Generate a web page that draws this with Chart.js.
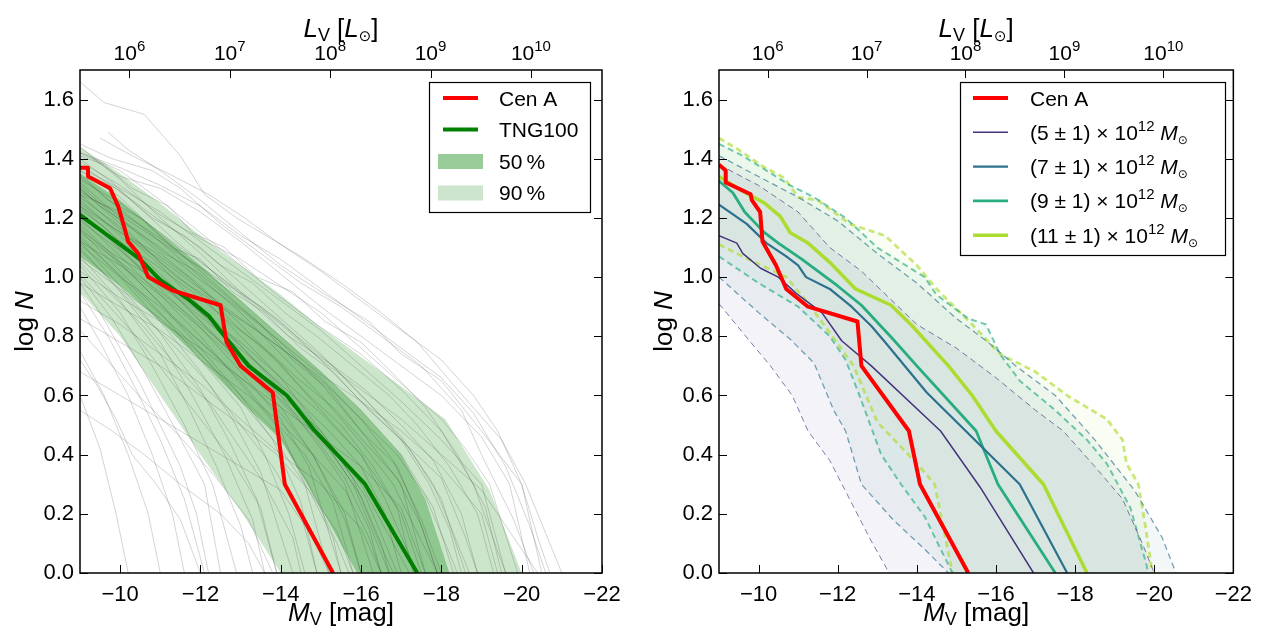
<!DOCTYPE html>
<html>
<head>
<meta charset="utf-8">
<script src="https://cdn.jsdelivr.net/npm/chart.js@4.4.1/dist/chart.umd.min.js"></script>
<style>
  html, body { margin: 0; padding: 0; background: #fff; }
  #wrap { position: relative; width: 1261px; height: 628px; overflow: hidden; }
  canvas { position: absolute; top: 0; }
  #leftChart { left: 0; }
  #rightChart { left: 639px; }
</style>
</head>
<body>
<div id="wrap">
  <canvas id="leftChart" width="630" height="628"></canvas>
  <canvas id="rightChart" width="622" height="628"></canvas>
</div>
<script>
'use strict';

// ---- axis ticks ----
var magTicks = [-10, -12, -14, -16, -18, -20, -22];
var logNTicks = [0.0, 0.2, 0.4, 0.6, 0.8, 1.0, 1.2, 1.4, 1.6];
var lumExponents = [6, 7, 8, 9, 10];   // top axis, L_V = 10^e
var MSUN_V = 4.77;                      // M_V of the sun, places the L_V ticks

// ---- left panel data, points are [M_V, log N] ----
var cenALeft = [[-9, 1.37], [-9.2, 1.37], [-9.2, 1.34], [-9.75, 1.30], [-9.95, 1.24], [-10.1, 1.17],
  [-10.2, 1.12], [-10.45, 1.08], [-10.7, 1.0], [-11.3, 0.955], [-12.5, 0.905], [-12.65, 0.78],
  [-13.0, 0.70], [-13.8, 0.61], [-14.1, 0.30], [-15.3, 0.0]];
var tngMedian = [[-9, 1.21], [-9.6, 1.15], [-10.3, 1.08], [-10.5, 1.06], [-11.0, 0.99], [-11.7, 0.925],
  [-12.2, 0.87], [-12.6, 0.80], [-13.2, 0.70], [-14.15, 0.60], [-14.85, 0.48], [-16.1, 0.30], [-17.4, 0.0]];
var band50Upper = [[-9, 1.35], [-10, 1.26], [-11, 1.15], [-12, 1.04], [-13, 0.92], [-14, 0.80],
  [-15, 0.68], [-16, 0.55], [-17, 0.40], [-17.6, 0.25], [-18.2, 0.0]];
var band50Lower = [[-9, 1.07], [-10, 0.97], [-11, 0.85], [-12, 0.72], [-13, 0.58], [-14, 0.45],
  [-15, 0.22], [-15.9, 0.0]];
var band90Upper = [[-9, 1.44], [-10, 1.35], [-11, 1.25], [-12, 1.14], [-13, 1.04], [-14, 0.94],
  [-15, 0.83], [-16, 0.73], [-17, 0.63], [-18.1, 0.52], [-19.2, 0.28], [-20.0, 0.0]];
var band90Lower = [[-9, 0.95], [-10, 0.80], [-11, 0.60], [-12, 0.40], [-13, 0.21], [-14, 0.0]];

// single TNG100 systems (thin grey lines)
var greyTracks = [
  [[-9, 1.66], [-9.6, 1.59], [-10.6, 1.55], [-11.5, 1.41], [-12.1, 1.28], [-12.9, 1.20], [-14.5, 1.07], [-15.5, 0.98], [-16.5, 0.88], [-17.4, 0.78], [-18.4, 0.62], [-19.5, 0.45], [-20.1, 0.30], [-21.0, 0]],
  [[-9.7, 1.49], [-10.2, 1.43], [-11.0, 1.36], [-12.0, 1.26], [-13.0, 1.15], [-14.0, 1.04], [-15.0, 0.95], [-16.2, 0.85], [-17.0, 0.74], [-18.0, 0.65], [-19.0, 0.48], [-20.0, 0.30], [-20.5, 0]],
  [[-9, 1.45], [-9.8, 1.40], [-10.8, 1.36], [-11.5, 1.30], [-12.5, 1.18], [-13.5, 1.08], [-14.5, 0.98], [-15.5, 0.90], [-16.5, 0.80], [-17.5, 0.70], [-18.5, 0.55], [-19.0, 0.40], [-19.8, 0.18], [-20.3, 0]],
  [[-9, 1.42], [-10, 1.36], [-11, 1.26], [-12, 1.15], [-13, 1.04], [-14, 0.93], [-15, 0.83], [-16, 0.74], [-17, 0.62], [-18, 0.48], [-18.8, 0.30], [-19.6, 0]],
  [[-9, 1.40], [-9.8, 1.32], [-10.6, 1.22], [-11.4, 1.12], [-12.3, 1.02], [-13.2, 0.92], [-14.2, 0.80], [-15.3, 0.70], [-16.3, 0.56], [-17.2, 0.42], [-18.0, 0.25], [-18.6, 0]],
  [[-9, 1.38], [-10, 1.29], [-11, 1.19], [-12, 1.10], [-13, 0.98], [-14, 0.86], [-15, 0.74], [-16, 0.60], [-17, 0.46], [-17.8, 0.30], [-18.7, 0]],
  [[-9, 1.36], [-10, 1.27], [-11, 1.14], [-12, 1.02], [-13, 0.90], [-14, 0.78], [-15, 0.64], [-16, 0.48], [-17, 0.30], [-17.6, 0]],
  [[-9, 1.34], [-10, 1.23], [-11, 1.12], [-12, 1.00], [-13, 0.88], [-14, 0.74], [-15, 0.60], [-16, 0.44], [-16.8, 0.30], [-17.9, 0]],
  [[-9, 1.32], [-10, 1.20], [-11, 1.08], [-12, 0.97], [-13, 0.84], [-14, 0.70], [-15, 0.55], [-16, 0.40], [-17, 0.20], [-17.5, 0]],
  [[-9, 1.30], [-10, 1.18], [-11, 1.05], [-12, 0.94], [-13, 0.80], [-14, 0.66], [-15, 0.48], [-16, 0.30], [-16.6, 0.15], [-17.2, 0]],
  [[-9, 1.28], [-10, 1.16], [-11, 1.04], [-12, 0.90], [-13, 0.77], [-14, 0.62], [-15, 0.46], [-15.8, 0.30], [-16.7, 0]],
  [[-9, 1.26], [-10, 1.14], [-11, 1.01], [-12, 0.88], [-13, 0.74], [-14, 0.60], [-15, 0.42], [-15.6, 0.30], [-16.3, 0]],
  [[-9, 1.24], [-10, 1.12], [-11, 0.99], [-12, 0.85], [-13, 0.71], [-14, 0.56], [-14.8, 0.40], [-15.6, 0.18], [-16.0, 0]],
  [[-9, 1.22], [-10, 1.10], [-11, 0.96], [-12, 0.83], [-13, 0.68], [-14, 0.52], [-14.7, 0.36], [-15.5, 0]],
  [[-9, 1.20], [-10, 1.07], [-11, 0.94], [-12, 0.80], [-13, 0.64], [-14, 0.48], [-14.6, 0.30], [-15.2, 0]],
  [[-9, 1.18], [-10, 1.05], [-11, 0.91], [-12, 0.76], [-13, 0.60], [-13.8, 0.45], [-14.5, 0.24], [-14.9, 0]],
  [[-9, 1.16], [-10, 1.02], [-11, 0.88], [-12, 0.72], [-13, 0.56], [-13.6, 0.40], [-14.2, 0.20], [-14.6, 0]],
  [[-9, 1.14], [-10, 1.00], [-11, 0.85], [-12, 0.68], [-12.8, 0.52], [-13.5, 0.34], [-14.3, 0]],
  [[-9, 1.12], [-10, 0.97], [-11, 0.81], [-12, 0.62], [-12.7, 0.45], [-13.4, 0.25], [-13.9, 0]],
  [[-9, 1.10], [-10, 0.95], [-11, 0.78], [-11.8, 0.60], [-12.6, 0.40], [-13.3, 0.18], [-13.6, 0]],
  [[-9, 1.07], [-10, 0.92], [-11, 0.74], [-11.7, 0.56], [-12.4, 0.36], [-13.0, 0.16], [-13.3, 0]],
  [[-9, 1.04], [-10, 0.88], [-10.8, 0.70], [-11.6, 0.50], [-12.3, 0.30], [-12.9, 0]],
  [[-9, 1.00], [-9.8, 0.86], [-10.6, 0.68], [-11.4, 0.48], [-12.1, 0.30], [-12.5, 0]],
  [[-9, 0.95], [-9.7, 0.80], [-10.4, 0.62], [-11.0, 0.45], [-11.6, 0.25], [-12.1, 0]],
  [[-9, 0.90], [-9.5, 0.78], [-10.2, 0.60], [-10.8, 0.40], [-11.3, 0.20], [-11.6, 0]],
  [[-9, 0.75], [-9.6, 0.60], [-10.2, 0.40], [-10.7, 0.20], [-11.0, 0]],
  [[-9, 0.60], [-9.5, 0.42], [-9.9, 0.20], [-10.2, 0]],
  [[-9, 1.02], [-10, 0.93], [-11, 0.85], [-12, 0.76], [-13, 0.66], [-14, 0.56], [-15, 0.46], [-16, 0.36], [-17, 0.22], [-17.6, 0]],
  [[-9, 0.92], [-10, 0.84], [-11, 0.74], [-12, 0.64], [-13, 0.52], [-14, 0.40], [-15, 0.30], [-16, 0.15], [-16.5, 0]],
  [[-9, 0.68], [-10, 0.60], [-11, 0.52], [-12, 0.44], [-13, 0.36], [-14, 0.28], [-14.8, 0.12], [-15.2, 0]],
  [[-9, 1.44], [-10, 1.33], [-11, 1.20], [-12, 1.08], [-13, 0.95], [-14, 0.84], [-15, 0.72], [-16, 0.62], [-17, 0.52], [-18, 0.40], [-19, 0.28], [-20, 0.08], [-20.4, 0]],
  [[-9, 1.37], [-10, 1.30], [-11, 1.22], [-12, 1.12], [-13, 1.02], [-14, 0.92], [-15, 0.82], [-16, 0.70], [-17, 0.58], [-18, 0.45], [-19, 0.30], [-19.3, 0.15], [-19.6, 0]],
  [[-9, 1.33], [-10, 1.25], [-11, 1.15], [-12, 1.05], [-13, 0.95], [-14, 0.85], [-15, 0.72], [-16, 0.58], [-17, 0.45], [-18, 0.32], [-18.6, 0.12], [-18.9, 0]],
  [[-9, 1.29], [-10, 1.21], [-11, 1.12], [-12, 1.03], [-13, 0.92], [-14, 0.80], [-15, 0.68], [-16, 0.55], [-17, 0.40], [-17.8, 0.22], [-18.3, 0]],
  [[-9.3, 1.40], [-10, 1.34], [-11, 1.30], [-12, 1.22], [-13, 1.12], [-14, 1.01], [-15, 0.90], [-16, 0.80], [-17, 0.70], [-18, 0.60], [-19, 0.46], [-19.7, 0.30], [-20.2, 0]],
  [[-9, 1.25], [-10, 1.15], [-11, 1.06], [-12, 0.96], [-13, 0.86], [-14, 0.76], [-15, 0.66], [-16, 0.52], [-16.8, 0.38], [-17.5, 0.18], [-18.0, 0]],
  [[-9, 1.19], [-10, 1.09], [-11, 0.98], [-12, 0.88], [-13, 0.78], [-14, 0.66], [-15, 0.54], [-16, 0.40], [-16.6, 0.25], [-17.4, 0]],
  [[-9, 1.15], [-10, 1.05], [-11, 0.95], [-12, 0.84], [-13, 0.72], [-14, 0.60], [-15, 0.48], [-15.8, 0.32], [-16.4, 0.12], [-16.8, 0]],
  [[-9, 1.11], [-10, 1.00], [-11, 0.90], [-12, 0.78], [-13, 0.66], [-14, 0.54], [-14.8, 0.40], [-15.6, 0.20], [-16.0, 0]],
  [[-9, 1.06], [-10, 0.96], [-11, 0.86], [-12, 0.74], [-13, 0.60], [-14, 0.46], [-14.7, 0.30], [-15.4, 0.10], [-15.7, 0]],
  [[-9, 1.39], [-10, 1.31], [-11, 1.21], [-12, 1.13], [-13, 1.06], [-14, 0.97], [-15, 0.88], [-16, 0.76], [-17, 0.64], [-18, 0.52], [-18.6, 0.42], [-19.2, 0.30], [-19.9, 0]],
  [[-9, 1.31], [-10, 1.19], [-11, 1.10], [-12, 0.99], [-13, 0.89], [-14, 0.78], [-15, 0.67], [-16, 0.58], [-17, 0.48], [-18, 0.36], [-19, 0.20], [-19.4, 0]],
  [[-9, 0.82], [-9.8, 0.70], [-10.6, 0.58], [-11.5, 0.46], [-12.4, 0.32], [-13.2, 0.18], [-13.8, 0]],
  [[-9, 1.41], [-9.6, 1.38], [-10.3, 1.30], [-11.2, 1.24], [-11.8, 1.15], [-12.6, 1.10], [-13.4, 1.00], [-14.3, 0.95], [-15.1, 0.85], [-16.0, 0.78], [-16.9, 0.66], [-17.6, 0.56], [-18.4, 0.40], [-19.1, 0.22], [-19.5, 0]],
  [[-9, 1.35], [-9.7, 1.26], [-10.5, 1.20], [-11.3, 1.10], [-12.0, 1.06], [-12.8, 0.95], [-13.6, 0.88], [-14.5, 0.76], [-15.3, 0.68], [-16.2, 0.55], [-17.0, 0.45], [-17.7, 0.30], [-18.2, 0.15], [-18.5, 0]],
  [[-9, 1.30], [-9.5, 1.24], [-10.4, 1.16], [-11.1, 1.08], [-11.9, 1.02], [-12.7, 0.93], [-13.5, 0.84], [-14.3, 0.72], [-15.2, 0.62], [-16.0, 0.48], [-16.9, 0.36], [-17.4, 0.20], [-17.9, 0]],
  [[-9, 1.27], [-9.9, 1.18], [-10.6, 1.10], [-11.4, 1.00], [-12.2, 0.93], [-13.0, 0.82], [-13.9, 0.72], [-14.7, 0.60], [-15.5, 0.50], [-16.3, 0.36], [-16.9, 0.22], [-17.3, 0]],
  [[-9, 1.23], [-9.6, 1.17], [-10.4, 1.06], [-11.2, 0.98], [-12.1, 0.87], [-12.9, 0.78], [-13.8, 0.66], [-14.6, 0.54], [-15.4, 0.40], [-16.1, 0.26], [-16.6, 0.10], [-16.9, 0]],
  [[-9, 1.21], [-9.8, 1.12], [-10.7, 1.00], [-11.5, 0.92], [-12.3, 0.81], [-13.2, 0.70], [-14.0, 0.58], [-14.9, 0.45], [-15.6, 0.32], [-16.2, 0.15], [-16.5, 0]],
  [[-9, 1.17], [-9.7, 1.08], [-10.5, 0.98], [-11.3, 0.87], [-12.1, 0.77], [-13.0, 0.65], [-13.8, 0.52], [-14.6, 0.40], [-15.3, 0.24], [-15.8, 0]],
  [[-9, 1.13], [-9.9, 1.02], [-10.8, 0.90], [-11.6, 0.80], [-12.4, 0.68], [-13.2, 0.55], [-14.0, 0.42], [-14.7, 0.28], [-15.3, 0.12], [-15.5, 0]],
  [[-9, 1.09], [-9.7, 1.00], [-10.5, 0.88], [-11.4, 0.76], [-12.2, 0.64], [-13.0, 0.50], [-13.8, 0.36], [-14.5, 0.20], [-14.9, 0]],
  [[-9, 1.05], [-9.8, 0.94], [-10.6, 0.83], [-11.4, 0.70], [-12.2, 0.58], [-12.9, 0.44], [-13.6, 0.30], [-14.3, 0.12], [-14.5, 0]],
  [[-9, 1.01], [-9.6, 0.92], [-10.4, 0.80], [-11.2, 0.66], [-12.0, 0.52], [-12.8, 0.38], [-13.5, 0.22], [-13.9, 0]],
  [[-9, 1.36], [-9.9, 1.30], [-10.8, 1.20], [-11.6, 1.14], [-12.5, 1.04], [-13.3, 0.98], [-14.1, 0.88], [-14.9, 0.80], [-15.8, 0.70], [-16.7, 0.60], [-17.4, 0.50], [-18.2, 0.36], [-18.9, 0.20], [-19.3, 0]],
  [[-9, 1.28], [-10.0, 1.22], [-10.9, 1.14], [-11.7, 1.06], [-12.6, 0.98], [-13.5, 0.90], [-14.4, 0.80], [-15.3, 0.70], [-16.1, 0.62], [-17.0, 0.50], [-17.8, 0.38], [-18.5, 0.20], [-18.9, 0]],
  [[-9, 1.24], [-9.9, 1.16], [-10.8, 1.09], [-11.7, 1.00], [-12.5, 0.90], [-13.4, 0.82], [-14.2, 0.74], [-15.1, 0.64], [-16.0, 0.52], [-16.9, 0.40], [-17.6, 0.26], [-18.1, 0.10], [-18.4, 0]],
  [[-9, 1.20], [-10.0, 1.12], [-10.9, 1.04], [-11.8, 0.95], [-12.7, 0.85], [-13.6, 0.76], [-14.4, 0.66], [-15.3, 0.56], [-16.1, 0.44], [-16.9, 0.32], [-17.5, 0.16], [-17.9, 0]],
  [[-9, 1.16], [-9.8, 1.08], [-10.8, 1.00], [-11.7, 0.90], [-12.6, 0.80], [-13.5, 0.70], [-14.3, 0.60], [-15.2, 0.48], [-16.0, 0.36], [-16.6, 0.20], [-17.0, 0]],
  [[-9, 1.12], [-10.0, 1.04], [-11.0, 0.94], [-11.9, 0.84], [-12.8, 0.73], [-13.6, 0.64], [-14.5, 0.52], [-15.3, 0.40], [-16.0, 0.26], [-16.5, 0.10], [-16.7, 0]],
  [[-9, 0.98], [-10.0, 0.90], [-11.0, 0.82], [-12.0, 0.72], [-13.0, 0.62], [-13.9, 0.52], [-14.8, 0.40], [-15.6, 0.28], [-16.2, 0.12], [-16.5, 0]],
  [[-9, 0.86], [-10.0, 0.78], [-11.0, 0.70], [-12.0, 0.60], [-13.0, 0.50], [-13.9, 0.40], [-14.7, 0.28], [-15.4, 0.14], [-15.8, 0]],
  [[-9, 1.42], [-10.0, 1.37], [-11.0, 1.31], [-12.0, 1.24], [-13.0, 1.14], [-14.0, 1.06], [-15.0, 0.96], [-16.0, 0.86], [-17.0, 0.76], [-18.0, 0.66], [-18.8, 0.54], [-19.6, 0.36], [-20.2, 0.16], [-20.6, 0]],
  [[-9.5, 1.47], [-10.3, 1.41], [-11.2, 1.35], [-12.2, 1.28], [-13.1, 1.20], [-14.0, 1.11], [-15.0, 1.02], [-16.0, 0.92], [-17.0, 0.82], [-18.0, 0.72], [-18.8, 0.60], [-19.4, 0.48], [-20.0, 0.30], [-20.4, 0.12], [-20.7, 0]],
  [[-9, 0.72], [-9.4, 0.64], [-9.9, 0.52], [-10.3, 0.40], [-10.9, 0.30], [-11.5, 0.18], [-12.0, 0]],
  [[-9, 0.55], [-9.8, 0.48], [-10.6, 0.40], [-11.5, 0.30], [-12.5, 0.20], [-13.2, 0.10], [-13.6, 0]],
  [[-9, 0.98], [-9.5, 0.88], [-10.0, 0.76], [-10.5, 0.64], [-11.0, 0.50], [-11.5, 0.36], [-11.9, 0.20], [-12.2, 0]]
];

// ---- right panel data ----
var cenARight = [[-9, 1.38], [-9.17, 1.36], [-9.17, 1.32], [-9.8, 1.28], [-9.83, 1.26], [-10.04, 1.22],
  [-10.1, 1.12], [-10.27, 1.08], [-10.44, 1.04], [-10.7, 0.96], [-11.25, 0.90], [-12.5, 0.85],
  [-12.6, 0.70], [-13.8, 0.48], [-14.08, 0.30], [-15.3, 0.0]];
var massBins = [5, 7, 9, 11];   // (m +- 1) x 10^12 Msun
var massMedian = [
  [[-9, 1.14], [-9.45, 1.115], [-9.6, 1.08], [-10.05, 1.03], [-10.5, 1.0], [-10.95, 0.945], [-11.6, 0.88], [-12.1, 0.785], [-12.85, 0.70], [-14.6, 0.48], [-15.6, 0.29], [-16.95, 0]],
  [[-9, 1.245], [-9.7, 1.18], [-10.2, 1.115], [-10.7, 1.07], [-11.0, 1.04], [-11.2, 1.0], [-11.8, 0.96], [-12.35, 0.90], [-12.85, 0.835], [-13.2, 0.78], [-14.25, 0.61], [-16.6, 0.30], [-17.8, 0]],
  [[-9, 1.325], [-9.35, 1.285], [-9.65, 1.22], [-9.9, 1.185], [-10.15, 1.15], [-10.5, 1.115], [-11.1, 1.06], [-12.0, 0.97], [-12.6, 0.905], [-13.4, 0.79], [-14.0, 0.70], [-15.5, 0.48], [-16.05, 0.30], [-17.5, 0]],
  [[-9, 1.34], [-9.6, 1.29], [-10.15, 1.25], [-10.55, 1.205], [-10.8, 1.15], [-11.25, 1.115], [-11.8, 1.05], [-12.45, 0.96], [-13.35, 0.905], [-13.85, 0.84], [-14.8, 0.70], [-15.4, 0.60], [-16.0, 0.48], [-17.2, 0.30], [-18.3, 0]]
];
var massLower = [
  [[-9, 0.91], [-9.8, 0.78], [-10.3, 0.70], [-10.85, 0.60], [-11.25, 0.48], [-11.8, 0.38], [-12.3, 0.25], [-12.8, 0.12], [-13.3, 0]],
  [[-9, 1.0], [-10, 0.88], [-10.8, 0.79], [-11.4, 0.71], [-11.9, 0.55], [-12.2, 0.48], [-12.6, 0.30], [-13.4, 0.18], [-14.2, 0.08], [-14.8, 0]],
  [[-9, 1.07], [-10, 0.98], [-11, 0.90], [-11.8, 0.80], [-12.2, 0.72], [-12.55, 0.60], [-13.1, 0.40], [-13.6, 0.30], [-14.2, 0.19], [-14.9, 0]],
  [[-9, 1.11], [-9.6, 1.07], [-10.7, 1.0], [-11.2, 0.92], [-11.7, 0.83], [-12.4, 0.70], [-13.0, 0.51], [-14.0, 0.37], [-14.45, 0.30], [-14.9, 0]]
];
var massUpper = [
  [[-9, 1.38], [-10, 1.31], [-11, 1.22], [-11.8, 1.10], [-12.6, 1.02], [-13.3, 0.93], [-14, 0.84], [-15, 0.76], [-16, 0.66], [-17, 0.55], [-17.7, 0.48], [-18.5, 0.36], [-19.2, 0.25], [-19.7, 0.10], [-20.0, 0]],
  [[-9, 1.41], [-10, 1.34], [-11, 1.27], [-12, 1.19], [-13, 1.08], [-14, 0.98], [-15, 0.86], [-15.8, 0.78], [-16.5, 0.70], [-17.5, 0.60], [-18.5, 0.45], [-19.5, 0.28], [-20.2, 0.12], [-20.55, 0]],
  [[-9, 1.45], [-9.6, 1.41], [-10.8, 1.31], [-11.4, 1.27], [-12.2, 1.20], [-13, 1.10], [-14.2, 1.0], [-14.5, 0.94], [-15.3, 0.86], [-15.75, 0.84], [-16.1, 0.74], [-16.6, 0.65], [-17.5, 0.55], [-18.3, 0.45], [-18.8, 0.37], [-19.4, 0.22], [-19.8, 0.03], [-19.85, 0]],
  [[-9, 1.47], [-9.5, 1.43], [-10.1, 1.375], [-10.65, 1.335], [-11.0, 1.27], [-11.5, 1.26], [-12.3, 1.18], [-13.2, 1.14], [-14.0, 1.04], [-14.5, 0.96], [-15.4, 0.84], [-16.1, 0.74], [-17.0, 0.68], [-17.8, 0.60], [-18.8, 0.52], [-19.2, 0.45], [-19.3, 0.37], [-19.6, 0.30], [-19.8, 0.14], [-19.95, 0]]
];

// ---- styles ----
var FONT = '"Liberation Sans", Arial, "DejaVu Sans", sans-serif';
var SYM = '"DejaVu Sans", sans-serif';
var TICK_SIZE = 22;
var TITLE_SIZE = 26;
var LEGEND_SIZE = 21;
var massColors = [[70, 51, 126], [44, 113, 142], [39, 173, 129], [173, 220, 48]];
var massWidths = [1.5, 2.2, 2.8, 3.5];
var dashWidths = [1, 1.3, 2, 2.8];

function rgba(c, a) {
  return 'rgba(' + c[0] + ',' + c[1] + ',' + c[2] + ',' + a + ')';
}

function pts(arr) {
  return arr.map(function (p) { return {x: p[0], y: p[1]}; });
}

// closed outline: upper edge left to right, then lower edge back
function polygon(upper, lower) {
  return pts(upper.concat(lower.slice().reverse()));
}

function magLabel(v) {
  return v < 0 ? '\u2212' + Math.abs(v) : String(v);
}

// draws text made of pieces (italic, sub, sup)
function drawRich(ctx, parts, x, y, align) {
  var items = [];
  var total = 0;
  parts.forEach(function (p) {
    var font = (p.i ? 'italic ' : '') + (p.s || LEGEND_SIZE) + 'px ' + (p.f || FONT);
    ctx.font = font;
    var w = ctx.measureText(p.t).width;
    items.push({t: p.t, font: font, w: w, dy: p.dy || 0});
    total += w;
  });
  var cx = align === 'center' ? x - total / 2 : (align === 'right' ? x - total : x);
  ctx.textAlign = 'left';
  ctx.textBaseline = 'alphabetic';
  ctx.fillStyle = '#000';
  items.forEach(function (it) {
    ctx.font = it.font;
    ctx.fillText(it.t, cx, y + it.dy);
    cx += it.w;
  });
}

function drawFrame(chart) {
  var ctx = chart.ctx;
  var a = chart.chartArea;
  var xs = chart.scales.x;
  var ys = chart.scales.y;
  ctx.save();
  ctx.strokeStyle = '#000';
  ctx.lineWidth = 1.5;
  ctx.strokeRect(a.left, a.top, a.right - a.left, a.bottom - a.top);
  ctx.lineWidth = 1;
  ctx.beginPath();
  logNTicks.forEach(function (v) {
    var y = Math.round(ys.getPixelForValue(v)) + 0.5;
    ctx.moveTo(a.left, y); ctx.lineTo(a.left + 8, y);
    ctx.moveTo(a.right, y); ctx.lineTo(a.right - 8, y);
  });
  magTicks.forEach(function (v) {
    var x = Math.round(xs.getPixelForValue(v)) + 0.5;
    ctx.moveTo(x, a.bottom); ctx.lineTo(x, a.bottom - 8);
  });
  lumExponents.forEach(function (e) {
    var x = Math.round(xs.getPixelForValue(MSUN_V - 2.5 * e)) + 0.5;
    ctx.moveTo(x, a.top); ctx.lineTo(x, a.top + 8);
  });
  ctx.stroke();

  // top axis labels 10^e
  lumExponents.forEach(function (e) {
    var x = xs.getPixelForValue(MSUN_V - 2.5 * e);
    drawRich(ctx, [{t: '10', s: 21}, {t: String(e), s: 15, dy: -9}], x, 60, 'center');
  });

  // axis titles
  var cx = (a.left + a.right) / 2;
  drawRich(ctx, [{t: 'L', i: 1, s: TITLE_SIZE}, {t: 'V', s: 18, dy: 4}, {t: ' [', s: TITLE_SIZE},
    {t: 'L', i: 1, s: TITLE_SIZE}, {t: '\u2299', s: 15, dy: 4, f: SYM}, {t: ']', s: TITLE_SIZE}], cx, 37, 'center');
  drawRich(ctx, [{t: 'M', i: 1, s: TITLE_SIZE}, {t: 'V', s: 18, dy: 4}, {t: ' [mag]', s: TITLE_SIZE}], cx, 621, 'center');
  ctx.save();
  ctx.translate(a.left - 47, (a.top + a.bottom) / 2);
  ctx.rotate(-Math.PI / 2);
  drawRich(ctx, [{t: 'log ', s: TITLE_SIZE}, {t: 'N', i: 1, s: TITLE_SIZE}], 0, 0, 'center');
  ctx.restore();
  ctx.restore();
}

function drawLegend(ctx, box, items) {
  ctx.save();
  ctx.fillStyle = '#fff';
  ctx.fillRect(box.left, box.top, box.width, box.height);
  ctx.strokeStyle = '#000';
  ctx.lineWidth = 1.2;
  ctx.strokeRect(box.left + 0.5, box.top + 0.5, box.width, box.height);
  items.forEach(function (it, i) {
    var y = box.top + box.first + i * box.step;
    if (it.patch) {
      ctx.fillStyle = it.color;
      ctx.fillRect(box.lineLeft - 5, y - 7, box.lineLen + 10, 15);
    } else {
      ctx.strokeStyle = it.color;
      ctx.lineWidth = it.width;
      ctx.beginPath();
      ctx.moveTo(box.lineLeft, y);
      ctx.lineTo(box.lineLeft + box.lineLen, y);
      ctx.stroke();
    }
    drawRich(ctx, it.text, box.textLeft, y + 7.5, 'left');
  });
  ctx.restore();
}

function decor(box, items) {
  return {
    id: 'decor',
    afterDraw: function (chart) {
      drawFrame(chart);
      drawLegend(chart.ctx, box, items);
    }
  };
}

function makeScales() {
  return {
    x: {
      type: 'linear', position: 'bottom', min: -22, max: -9, reverse: true,
      grid: {display: false, drawTicks: false}, border: {display: false},
      afterBuildTicks: function (s) { s.ticks = magTicks.map(function (v) { return {value: v}; }); },
      afterFit: function (s) { s.height = 55; },
      ticks: {color: '#000', font: {family: FONT, size: TICK_SIZE}, padding: 9, maxRotation: 0, autoSkip: false,
        callback: function (v) { return magLabel(v); }}
    },
    top: {
      type: 'linear', position: 'top', min: -22, max: -9, reverse: true,
      grid: {display: false, drawTicks: false}, border: {display: false},
      ticks: {display: false},
      afterFit: function (s) { s.height = 70; }
    },
    y: {
      type: 'linear', position: 'left', min: 0, max: 1.7,
      grid: {display: false, drawTicks: false}, border: {display: false},
      afterBuildTicks: function (s) { s.ticks = logNTicks.map(function (v) { return {value: v}; }); },
      afterFit: function (s) { s.width = 80; },
      ticks: {color: '#000', font: {family: FONT, size: TICK_SIZE}, padding: 6, autoSkip: false,
        callback: function (v) { return Number(v).toFixed(1); }}
    }
  };
}

function lineSet(data, color, width, order, dash) {
  return {data: pts(data), borderColor: color, borderWidth: width, borderDash: dash || [],
    borderJoinStyle: 'round', pointRadius: 0, fill: false, order: order, clip: 0, tension: 0};
}

function fillSet(upper, lower, color, order) {
  return {data: polygon(upper, lower), borderColor: 'rgba(0,0,0,0)', borderWidth: 0,
    backgroundColor: color, pointRadius: 0, fill: 'shape', order: order, clip: 0, tension: 0};
}

function commonOptions(rightPad) {
  return {
    responsive: false, animation: false, events: [], devicePixelRatio: 1,
    layout: {padding: {left: 0, right: rightPad, top: 0, bottom: 0}},
    plugins: {legend: {display: false}, tooltip: {enabled: false}},
    scales: makeScales()
  };
}

// ---- left panel ----
var leftSets = [];
leftSets.push(lineSet(cenALeft, '#ff0000', 4, 0));
leftSets.push(lineSet(tngMedian, '#008000', 4, 1));
leftSets.push(fillSet(band50Upper, band50Lower, 'rgba(0,128,0,0.3)', 3));
leftSets.push(fillSet(band90Upper, band90Lower, 'rgba(0,128,0,0.2)', 4));
for (var i = 0; i < greyTracks.length; i++) {
  leftSets.push(lineSet(greyTracks[i], 'rgba(40,40,40,0.2)', 1, 2));
}

new Chart(document.getElementById('leftChart'), {
  type: 'line',
  data: {datasets: leftSets},
  options: commonOptions(28),
  plugins: [decor(
    {left: 429, top: 82, width: 161, height: 130, first: 16, step: 31.5, lineLeft: 443, lineLen: 35, textLeft: 499},
    [
      {color: '#ff0000', width: 4, text: [{t: 'Cen A'}]},
      {color: '#008000', width: 4, text: [{t: 'TNG100'}]},
      {patch: true, color: '#99cc99', text: [{t: '50\u2009%'}]},
      {patch: true, color: '#cce5cc', text: [{t: '90\u2009%'}]}
    ]
  )]
});

// ---- right panel ----
var rightSets = [];
rightSets.push(lineSet(cenARight, '#ff0000', 4, 0));
var rightLegend = [{color: '#ff0000', width: 4, text: [{t: 'Cen A'}]}];
for (var m = 0; m < massBins.length; m++) {
  var c = massColors[m];
  rightSets.push(lineSet(massMedian[m], rgba(c, 1), massWidths[m], 1));
  rightSets.push(lineSet(massLower[m], rgba(c, 0.65), dashWidths[m], 2, [6, 4]));
  rightSets.push(lineSet(massUpper[m], rgba(c, 0.65), dashWidths[m], 2, [6, 4]));
  rightSets.push(fillSet(massUpper[m], massLower[m], rgba(c, 0.06), 3));
  rightLegend.push({color: rgba(c, 1), width: massWidths[m], text: [
    {t: '(' + massBins[m] + ' \u00b1 1) \u00d7 10'}, {t: '12', s: 15, dy: -9}, {t: ' '},
    {t: 'M', i: 1}, {t: '\u2299', s: 12, dy: 4, f: SYM}
  ]});
}

new Chart(document.getElementById('rightChart'), {
  type: 'line',
  data: {datasets: rightSets},
  options: commonOptions(20),
  plugins: [decor(
    {left: 321, top: 82, width: 265, height: 173, first: 16, step: 34.3, lineLeft: 334, lineLen: 35, textLeft: 391},
    rightLegend
  )]
});
</script>
</body>
</html>
